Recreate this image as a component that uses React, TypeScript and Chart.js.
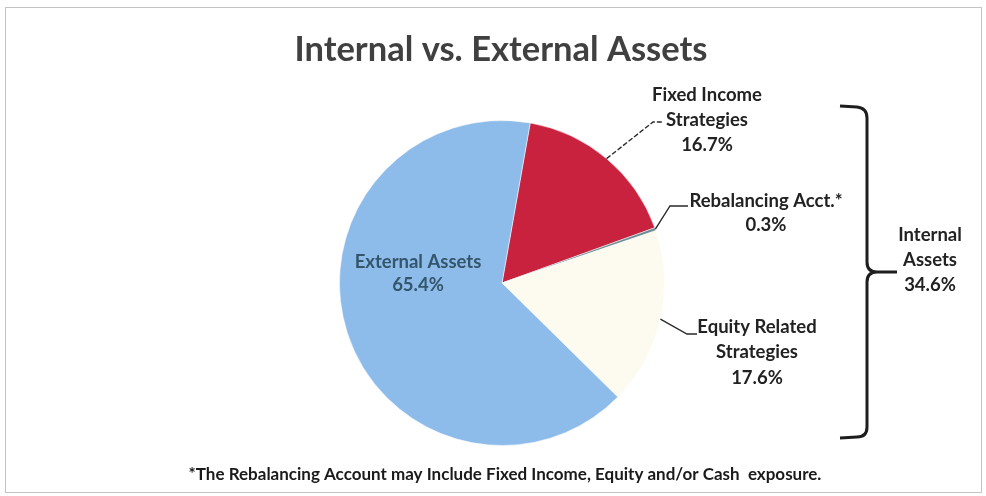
import React, { useEffect, useRef } from "react";
import { Chart, registerables } from "chart.js";

Chart.register(...registerables);

const categories = ["Fixed Income Strategies", "Rebalancing Acct.*", "Equity Related Strategies", "External Assets"];
const values = [16.7, 0.3, 17.6, 65.4];
const sliceColors = ["#C8223F", "#6F8C92", "#FDFBEF", "#8DBBEA"];
const labelNames = [["Fixed Income", "Strategies"], ["Rebalancing Acct.*"], ["Equity Related", "Strategies"], ["External Assets"]];
const internalName = ["Internal", "Assets"];
const internalIdx = [0, 1, 2];
const titleText = "Internal vs. External Assets";
const footnote = "*The Rebalancing Account may Include Fixed Income, Equity and/or Cash  exposure.";

// layout only: label text centres, leader elbows
const labelLayout = [
  { x: 707, y: 95, lh: 25, elbow: [653, 122], end: [662, 122], dash: true, leader: true, color: "#222" },
  { x: 766, y: 201, lh: 24, elbow: [670, 206], end: [688, 206], dash: false, leader: true, color: "#222" },
  { x: 757, y: 327, lh: 25.5, elbow: [687, 334], end: [697, 334], dash: false, leader: true, color: "#222" },
  { x: 418, y: 262, lh: 23, elbow: null, end: null, dash: false, leader: false, color: "#34566B" },
];
const FONT = "Lato, 'Open Sans', sans-serif";

const fmt = (v: number) => `${v.toFixed(1)}%`;

const overlay = {
  id: "overlay",
  afterDraw(chart: any) {
    const ctx: CanvasRenderingContext2D = chart.ctx;
    const meta = chart.getDatasetMeta(0);
    ctx.save();
    // frame
    ctx.strokeStyle = "#c4c4c4";
    ctx.lineWidth = 1;
    ctx.strokeRect(5.5, 7.5, 976, 485);
    // title
    ctx.fillStyle = "#404040";
    ctx.font = `bold 34.5px ${FONT}`;
    ctx.textAlign = "center";
    ctx.textBaseline = "middle";
    ctx.fillText(titleText, 501, 50);

    // slice labels
    values.forEach((v, i) => {
      const arc = meta.data[i];
      const L = labelLayout[i];
      const mid = (arc.startAngle + arc.endAngle) / 2;
      if (L.leader) {
        const sx = arc.x + Math.cos(mid) * arc.outerRadius;
        const sy = arc.y + Math.sin(mid) * arc.outerRadius;
        ctx.beginPath();
        ctx.strokeStyle = "#2a2a2a";
        ctx.lineWidth = 1.4;
        ctx.setLineDash(L.dash ? [5, 2] : []);
        ctx.moveTo(sx, sy);
        ctx.lineTo(L.elbow![0], L.elbow![1]);
        ctx.lineTo(L.end![0], L.end![1]);
        ctx.stroke();
        ctx.setLineDash([]);
      }
      const lines = [...labelNames[i], fmt(v)];
      ctx.fillStyle = L.color;
      ctx.font = `bold 18.5px ${FONT}`;
      lines.forEach((t, k) => ctx.fillText(t, L.x, L.y + k * L.lh));
    });

    // brace for internal assets
    ctx.strokeStyle = "#1e1e1e";
    ctx.lineWidth = 3;
    ctx.beginPath();
    ctx.moveTo(840, 106);
    ctx.lineTo(857, 107);
    ctx.quadraticCurveTo(867, 108, 867, 118);
    ctx.lineTo(867, 262);
    ctx.quadraticCurveTo(867, 272, 877, 272);
    ctx.lineTo(897, 272);
    ctx.moveTo(877, 272);
    ctx.quadraticCurveTo(867, 272, 867, 282);
    ctx.lineTo(867, 427);
    ctx.quadraticCurveTo(867, 437, 857, 437);
    ctx.lineTo(840, 438);
    ctx.stroke();
    const internalTotal = internalIdx.reduce((s, i) => s + values[i], 0);
    ctx.fillStyle = "#222";
    ctx.font = `bold 18.5px ${FONT}`;
    [...internalName, fmt(internalTotal)].forEach((t, k) => ctx.fillText(t, 930, 235 + k * 25));

    // footnote
    ctx.font = `bold 17px ${FONT}`;
    ctx.fillStyle = "#1a1a1a";
    ctx.fillText(footnote, 505, 475);
    ctx.restore();
  },
};

export default function App() {
  const ref = useRef<HTMLCanvasElement>(null);
  useEffect(() => {
    const chart = new Chart(ref.current!, {
      type: "pie",
      data: {
        labels: categories,
        datasets: [
          {
            data: values,
            backgroundColor: sliceColors,
            borderColor: "rgba(255,255,255,0.5)",
            borderWidth: 1,
          },
        ],
      },
      options: {
        responsive: false,
        animation: false,
        rotation: 10,
        layout: { padding: { left: 339, right: 321, top: 120, bottom: 50 } },
        plugins: { legend: { display: false }, tooltip: { enabled: false }, title: { display: false } },
      },
      plugins: [overlay],
    });
    return () => chart.destroy();
  }, []);
  return (
    <div style={{ position: "absolute", left: 0, top: 0, width: 986, height: 496, background: "#fff" }}>
      <canvas ref={ref} width={986} height={496} style={{ display: "block" }} />
    </div>
  );
}
